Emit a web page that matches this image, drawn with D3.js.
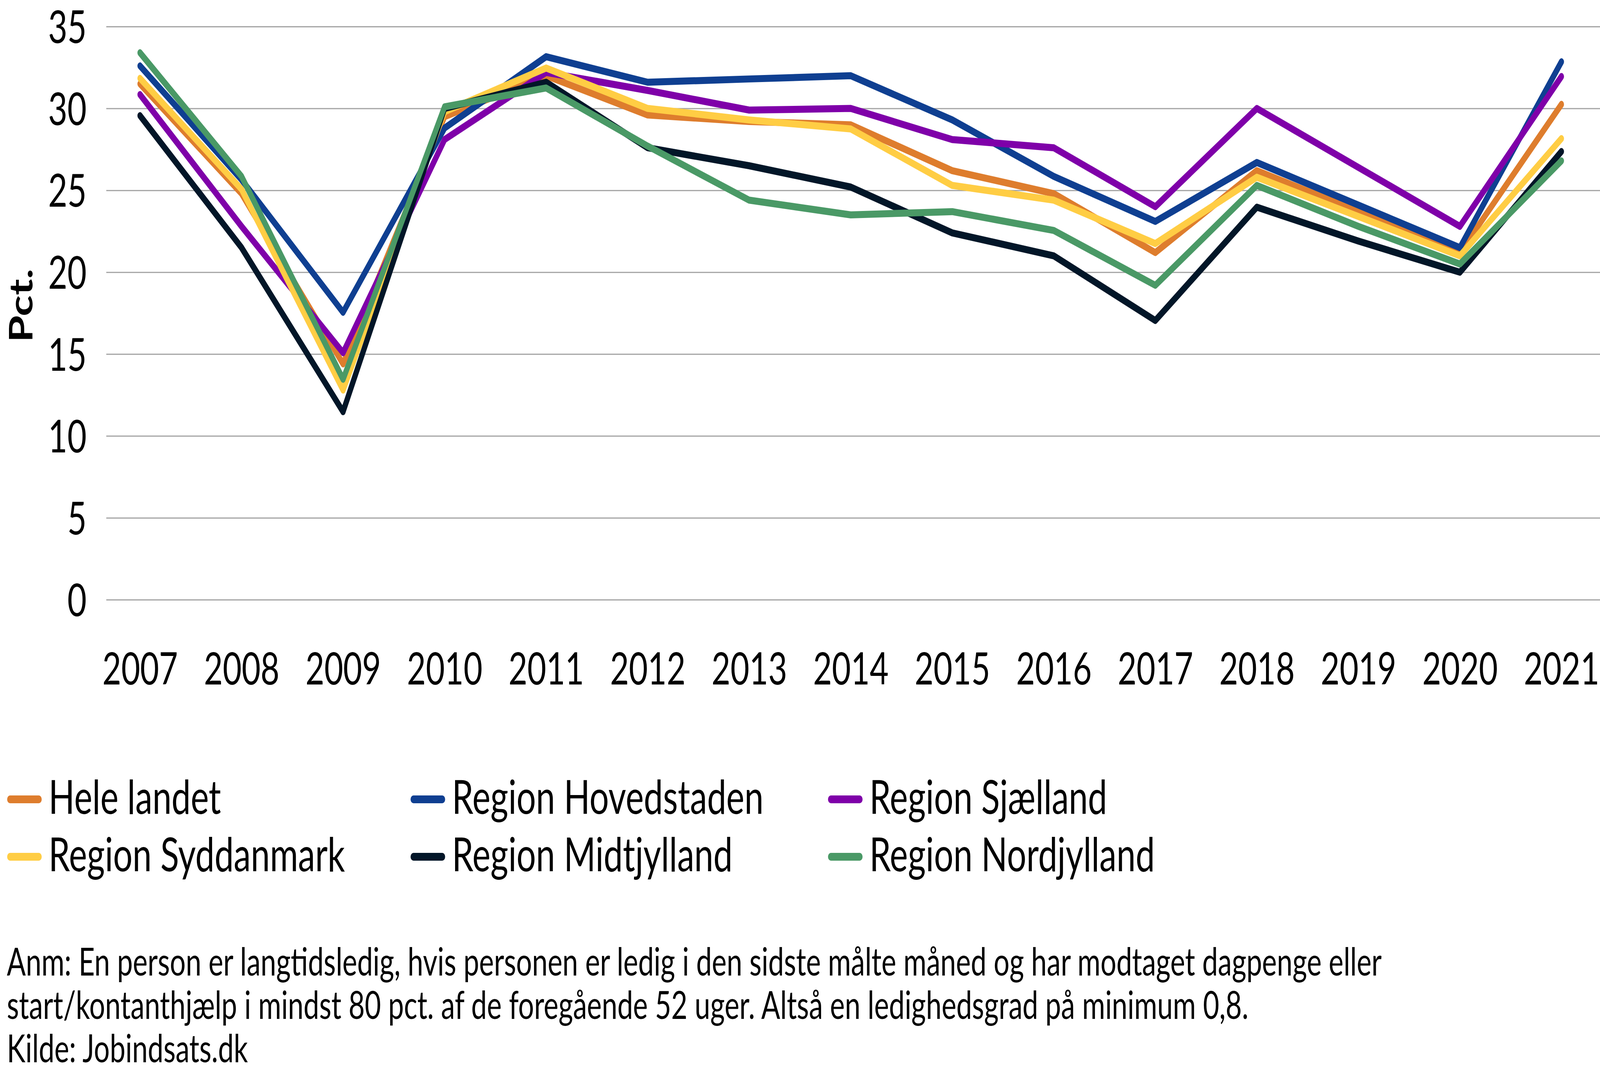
<!DOCTYPE html>
<html>
<head>
<meta charset="utf-8">
<script src="https://cdn.jsdelivr.net/npm/d3@7"></script>
<style>
  html, body { margin: 0; padding: 0; background: #ffffff; overflow: hidden; width: 100%; height: 100%; }
  svg { display: block; width: 100vw; height: 100vh; }
  text { font-family: Lato, "Open Sans", sans-serif; fill: #000; }
</style>
</head>
<body>
<svg id="chart" viewBox="0 0 5600 2749" preserveAspectRatio="none"></svg>
<script>
const years = ["2007","2008","2009","2010","2011","2012","2013","2014","2015","2016","2017","2018","2019","2020","2021"];
const yTicks = [0, 5, 10, 15, 20, 25, 30, 35];

const heleLandet    = [31.5, 24.8, 14.4, 29.5, 32.0, 29.6, 29.2, 29.0, 26.2, 24.8, 21.2, 26.2, 23.7, 21.2, 30.25];
const hovedstaden   = [32.6, 25.65, 17.55, 28.8, 33.16, 31.6, 31.8, 32.0, 29.3, 25.85, 23.1, 26.7, 24.1, 21.5, 32.85];
const sjaelland     = [30.85, 22.8, 15.08, 28.1, 32.2, 31.1, 29.9, 30.0, 28.1, 27.6, 24.0, 30.0, 26.4, 22.8, 31.95];
const syddanmark    = [31.84, 25.06, 12.8, 29.8, 32.47, 30.0, 29.3, 28.75, 25.3, 24.4, 21.75, 25.8, 23.4, 21.0, 28.16];
const midtjylland   = [29.56, 21.5, 11.48, 30.0, 31.6, 27.6, 26.5, 25.2, 22.4, 21.0, 17.05, 23.97, 21.9, 20.0, 27.37];
const nordjylland   = [33.4, 25.85, 13.46, 30.1, 31.25, 27.7, 24.4, 23.5, 23.7, 22.55, 19.2, 25.3, 22.8, 20.5, 26.8];

const seriesNames  = ["Hele landet", "Region Hovedstaden", "Region Sjælland", "Region Syddanmark", "Region Midtjylland", "Region Nordjylland"];
const seriesValues = [heleLandet, hovedstaden, sjaelland, syddanmark, midtjylland, nordjylland];
const seriesColors = ["#DE7D2D", "#0F3F91", "#7F00A9", "#FFCD44", "#021628", "#4A9966"];

const yTitle = "Pct.";
const noteLines = [
  "Anm: En person er langtidsledig, hvis personen er ledig i den sidste målte måned og har modtaget dagpenge eller",
  "start/kontanthjælp i mindst 80 pct. af de foregående 52 uger. Altså en ledighedsgrad på minimum 0,8.",
  "Kilde: Jobindsats.dk"
];

const svg = d3.select("#chart");
svg.append("rect").attr("width", 5600).attr("height", 2749).attr("fill", "#fff");

const plotLeft = 372, plotRight = 5600, plotTop = 68, plotBottom = 1535;
const x = d3.scalePoint().domain(years).range([490, 5465]);
const y = d3.scaleLinear().domain([0, 35]).range([plotBottom, plotTop]);

// Y axis with gridlines
const yAxis = svg.append("g")
  .attr("transform", `translate(${plotLeft},0)`)
  .call(d3.axisLeft(y).tickValues(yTicks).tickSizeInner(-(plotRight - plotLeft)).tickSizeOuter(0).tickPadding(69));
yAxis.select(".domain").remove();
yAxis.selectAll(".tick line").attr("stroke", "#a3a3a3").attr("stroke-width", 3);
yAxis.selectAll(".tick text")
  .attr("font-size", 116)
  .attr("font-family", "Lato, 'Open Sans', sans-serif")
  .attr("fill", "#000")
  .attr("dy", "0.36em");

// X axis labels
const xAxis = svg.append("g")
  .attr("transform", `translate(0,${plotBottom})`)
  .call(d3.axisBottom(x).tickSize(0).tickPadding(0));
xAxis.select(".domain").remove();
xAxis.selectAll(".tick text")
  .attr("font-size", 114)
  .attr("font-family", "Lato, 'Open Sans', sans-serif")
  .attr("fill", "#000")
  .attr("y", 1752 - plotBottom)
  .attr("dy", 0);

// Y title
svg.append("text")
  .attr("transform", `translate(113,782) rotate(-90)`)
  .attr("text-anchor", "middle")
  .attr("font-weight", 700)
  .attr("font-size", 112)
  .text(yTitle);

// Lines (series order = drawing order, last on top)
const line = d3.line()
  .x((d, i) => x(years[i]))
  .y(d => y(d));

svg.append("g").selectAll("path")
  .data(seriesValues)
  .join("path")
  .attr("d", d => line(d))
  .attr("fill", "none")
  .attr("stroke", (d, i) => seriesColors[i])
  .attr("stroke-width", 18)
  .attr("stroke-linejoin", "round")
  .attr("stroke-linecap", "round");

// Legend
const legendCols = [25, 1437, 2898];
const legendRows = [2046, 2193];
const legend = svg.append("g").selectAll("g")
  .data(seriesNames)
  .join("g")
  .attr("transform", (d, i) => `translate(${legendCols[i % 3]},${legendRows[Math.floor(i / 3)]})`);
legend.append("line")
  .attr("x1", 10).attr("x2", 111)
  .attr("y1", 0).attr("y2", 0)
  .attr("stroke", (d, i) => seriesColors[i])
  .attr("stroke-width", 20)
  .attr("stroke-linecap", "round");
legend.append("text")
  .attr("x", 145)
  .attr("y", 37)
  .attr("font-size", 120)
  .text(d => d);

// Note
svg.append("g").selectAll("text")
  .data(noteLines)
  .join("text")
  .attr("x", 24)
  .attr("y", (d, i) => 2497 + i * 111)
  .attr("font-size", 98)
  .text(d => d);
</script>
</body>
</html>
